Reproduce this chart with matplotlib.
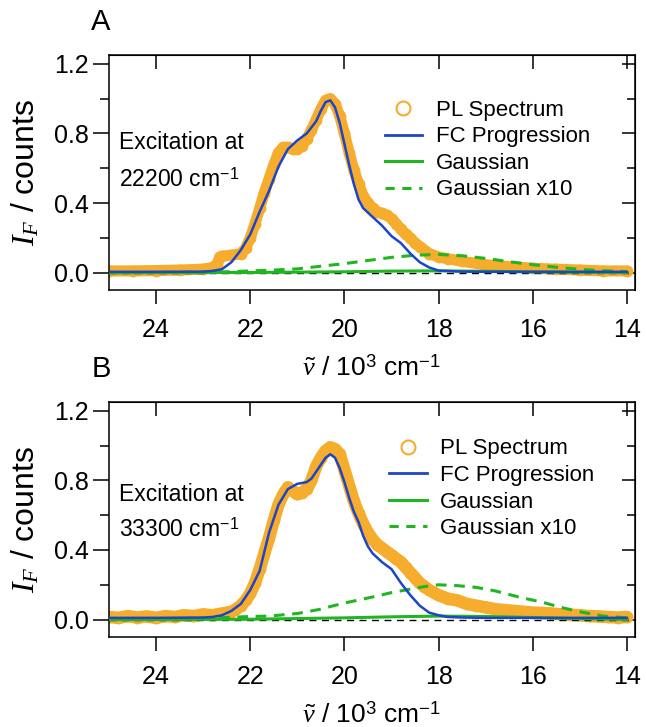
import matplotlib
matplotlib.use("Agg")
import matplotlib.pyplot as plt
from matplotlib.lines import Line2D

plt.rcParams['font.family'] = ['Liberation Sans', 'DejaVu Sans']
plt.rcParams['mathtext.fontset'] = 'custom'
plt.rcParams['mathtext.rm'] = 'Liberation Sans'
plt.rcParams['mathtext.it'] = 'Liberation Serif:italic'
plt.rcParams['mathtext.bf'] = 'Liberation Sans:bold'

orange = '#F6AC2C'
blue = '#1C45C8'
green = '#22B522'

################### Panel A : excitation at 22200 cm-1 ####################
a_pl_x = [25.0, 24.5, 24.0, 23.5, 23.0, 22.8, 22.7, 22.65, 22.6, 22.4, 22.2, 22.1,
          22.0, 21.9, 21.8, 21.7, 21.6, 21.5, 21.4, 21.3, 21.2, 21.1, 21.0, 20.9,
          20.8, 20.7, 20.6, 20.5, 20.4, 20.3, 20.2, 20.1, 20.0, 19.9, 19.8, 19.7,
          19.6, 19.5, 19.4, 19.3, 19.2, 19.1, 19.0, 18.9, 18.8, 18.7, 18.6, 18.5,
          18.4, 18.2, 18.0, 17.8, 17.5, 17.0, 16.5, 16.0, 15.5, 15.0, 14.5, 14.0]
a_pl_y = [0.01, 0.01, 0.012, 0.015, 0.02, 0.03, 0.05, 0.09, 0.095, 0.10, 0.11, 0.14,
          0.20, 0.28, 0.37, 0.46, 0.54, 0.62, 0.69, 0.72, 0.72, 0.71, 0.71, 0.73,
          0.77, 0.82, 0.88, 0.94, 0.99, 1.00, 0.97, 0.90, 0.80, 0.69, 0.59, 0.51,
          0.44, 0.40, 0.37, 0.35, 0.34, 0.33, 0.31, 0.28, 0.25, 0.22, 0.20, 0.17,
          0.15, 0.11, 0.09, 0.08, 0.065, 0.045, 0.035, 0.025, 0.02, 0.015, 0.01, 0.01]

a_fc_x = [25.0, 24.0, 23.0, 22.8, 22.6, 22.4, 22.2, 22.0, 21.8, 21.6, 21.4, 21.2,
          21.0, 20.8, 20.6, 20.5, 20.4, 20.3, 20.2, 20.1, 20.0, 19.9, 19.8, 19.7,
          19.6, 19.4, 19.2, 19.0, 18.8, 18.6, 18.4, 18.2, 18.0, 17.5, 17.0, 16.0,
          15.0, 14.0]
a_fc_y = [0.005, 0.005, 0.006, 0.01, 0.02, 0.06, 0.13, 0.22, 0.35, 0.47, 0.61, 0.71,
          0.76, 0.80, 0.87, 0.93, 0.98, 0.99, 0.95, 0.86, 0.74, 0.62, 0.51, 0.42,
          0.37, 0.32, 0.27, 0.21, 0.17, 0.11, 0.06, 0.03, 0.012, 0.006, 0.005, 0.005,
          0.005, 0.005]

a_g10_x = [25.0, 24.0, 23.0, 22.5, 22.0, 21.5, 21.0, 20.5, 20.0, 19.5, 19.0, 18.5,
           18.0, 17.5, 17.0, 16.5, 16.0, 15.5, 15.0, 14.5, 14.0]
a_g10_y = [0.0, 0.001, 0.003, 0.005, 0.01, 0.015, 0.022, 0.037, 0.052, 0.07, 0.088, 0.10,
           0.105, 0.097, 0.082, 0.063, 0.046, 0.031, 0.019, 0.011, 0.006]

a_g_x = [25.0, 22.0, 20.0, 19.0, 18.0, 17.0, 16.0, 15.0, 14.0]
a_g_y = [0.0, 0.001, 0.005, 0.009, 0.0105, 0.008, 0.0046, 0.002, 0.0006]

################### Panel B : excitation at 33300 cm-1 ####################
b_pl_x = [25.0, 24.8, 24.6, 24.4, 24.2, 24.0, 23.8, 23.6, 23.4, 23.2, 23.0, 22.8,
          22.6, 22.4, 22.3, 22.2, 22.1, 22.0, 21.9, 21.8, 21.7, 21.6, 21.5, 21.4,
          21.3, 21.2, 21.1, 21.0, 20.9, 20.8, 20.7, 20.6, 20.5, 20.4, 20.3, 20.2,
          20.1, 20.0, 19.9, 19.8, 19.7, 19.6, 19.5, 19.4, 19.3, 19.2, 19.1, 19.0,
          18.9, 18.8, 18.7, 18.6, 18.5, 18.4, 18.3, 18.2, 18.0, 17.8, 17.6, 17.4,
          17.2, 17.0, 16.8, 16.6, 16.4, 16.2, 16.0, 15.8, 15.6, 15.4, 15.2, 15.0,
          14.8, 14.6, 14.4, 14.2, 14.0]
b_pl_y = [0.015, 0.01, 0.02, 0.012, 0.018, 0.01, 0.02, 0.015, 0.025, 0.02, 0.03, 0.025,
          0.035, 0.045, 0.06, 0.08, 0.11, 0.15, 0.21, 0.29, 0.38, 0.47, 0.57, 0.66,
          0.72, 0.76, 0.74, 0.72, 0.73, 0.75, 0.80, 0.88, 0.93, 0.97, 0.99, 0.98,
          0.95, 0.86, 0.77, 0.68, 0.61, 0.55, 0.50, 0.46, 0.43, 0.41, 0.39, 0.37,
          0.35, 0.33, 0.30, 0.27, 0.24, 0.21, 0.19, 0.17, 0.14, 0.12, 0.11, 0.09,
          0.08, 0.07, 0.06, 0.055, 0.05, 0.045, 0.04, 0.038, 0.035, 0.03, 0.028, 0.025,
          0.02, 0.018, 0.015, 0.012, 0.015]

b_fc_x = [25.0, 24.0, 23.0, 22.8, 22.6, 22.4, 22.2, 22.0, 21.8, 21.6, 21.4, 21.2,
          21.0, 20.8, 20.7, 20.6, 20.5, 20.4, 20.3, 20.2, 20.1, 20.0, 19.9, 19.8,
          19.7, 19.6, 19.5, 19.4, 19.2, 19.0, 18.8, 18.6, 18.4, 18.2, 18.0, 17.8,
          17.5, 17.0, 16.0, 15.0, 14.0]
b_fc_y = [0.01, 0.01, 0.012, 0.015, 0.025, 0.05, 0.09, 0.17, 0.28, 0.50, 0.66, 0.75,
          0.78, 0.79, 0.81, 0.85, 0.89, 0.93, 0.95, 0.93, 0.87, 0.79, 0.70, 0.62,
          0.56, 0.48, 0.42, 0.38, 0.33, 0.29, 0.21, 0.14, 0.08, 0.04, 0.025, 0.015,
          0.012, 0.01, 0.01, 0.01, 0.01]

b_g10_x = [25.0, 24.0, 23.0, 22.5, 22.0, 21.6, 21.0, 20.5, 20.3, 20.0, 19.4, 19.0,
           18.7, 18.3, 18.0, 17.6, 17.2, 16.8, 16.3, 15.8, 15.4, 15.0, 14.5, 14.0]
b_g10_y = [0.0, 0.003, 0.008, 0.012, 0.018, 0.02, 0.035, 0.06, 0.075, 0.095, 0.13, 0.155,
           0.17, 0.19, 0.20, 0.195, 0.185, 0.165, 0.13, 0.10, 0.07, 0.045, 0.02, 0.01]

b_g_x = [25.0, 22.0, 20.0, 19.0, 18.0, 17.0, 16.0, 15.0, 14.0]
b_g_y = [0.0, 0.002, 0.01, 0.016, 0.02, 0.018, 0.012, 0.005, 0.001]

x_ticks = [24, 22, 20, 18, 16, 14]
y_major = [0.0, 0.4, 0.8, 1.2]
y_minor = [0.2, 0.6, 1.0]
legend_labels = ['PL Spectrum', 'FC Progression', 'Gaussian', 'Gaussian x10']

# letter, data..., excitation, axes bottom, band width, legend anchor, text rows
panels = [
    ('A', a_pl_x, a_pl_y, a_fc_x, a_fc_y, a_g_x, a_g_y, a_g10_x, a_g10_y, '22200',
     0.601, 8, (0.524, 0.81), (0.626, 0.468)),
    ('B', b_pl_x, b_pl_y, b_fc_x, b_fc_y, b_g_x, b_g_y, b_g10_x, b_g10_y, '33300',
     0.1238, 9, (0.532, 0.845), (0.607, 0.457)),
]

fig = plt.figure(figsize=(6.46, 7.27), dpi=100)

for (letter, pl_x, pl_y, fc_x, fc_y, g_x, g_y, g10_x, g10_y, exc, bottom, band,
     leg_anchor, text_rows) in panels:
    ax = fig.add_axes([0.1687, bottom, 0.8142, 0.3232])

    ax.plot(pl_x, pl_y, '-o', color=orange, lw=band, ms=7, mfc='none', mec=orange,
            mew=1.5, solid_capstyle='round', zorder=1)
    ax.axhline(0, color='k', ls=(0, (5, 4)), lw=1.0, zorder=2)
    ax.plot(g_x, g_y, color=green, lw=2.2, zorder=3)
    ax.plot(g10_x, g10_y, color=green, lw=2.2, ls=(0, (3.5, 2.5)), zorder=3)
    ax.plot(fc_x, fc_y, color=blue, lw=1.8, zorder=4)

    ax.set_xlim(25, 13.83)
    ax.set_ylim(-0.1, 1.25)
    ax.set_xticks(x_ticks)
    ax.set_xticklabels([str(t) for t in x_ticks])
    ax.set_yticks(y_major)
    ax.set_yticks(y_minor, minor=True)
    ax.set_yticklabels(['%.1f' % v for v in y_major])
    ax.tick_params(axis='x', direction='out', length=10, width=1.1, labelsize=18, pad=10)
    ax.tick_params(axis='y', which='major', direction='out', length=11.5, width=1.1,
                   labelsize=18, pad=3)
    ax.tick_params(axis='y', which='minor', direction='out', length=6.5, width=1.1)
    for s in ax.spines.values():
        s.set_linewidth(1.1)

    top = ax.secondary_xaxis('top')
    top.set_xticks(x_ticks)
    top.tick_params(direction='in', length=10, width=1.1, labeltop=False)
    right = ax.secondary_yaxis('right')
    right.set_yticks(y_major)
    right.set_yticks(y_minor, minor=True)
    right.tick_params(which='major', direction='in', length=9.5, width=1.1, labelright=False)
    right.tick_params(which='minor', direction='in', length=6, width=1.1)

    ax.set_ylabel(r'$I_F$ / counts', fontsize=23)
    ax.yaxis.set_label_coords(-0.128, 0.5)
    ax.set_xlabel(r'$\tilde{\nu}$ / 10$^3$ cm$^{-1}$', fontsize=19)
    ax.xaxis.set_label_coords(0.5, -0.275)

    ax.text(0.02, text_rows[0], 'Excitation at', fontsize=16.5, va='center',
            transform=ax.transAxes)
    ax.text(0.02, text_rows[1], exc + r' cm$^{-1}$', fontsize=16.5, va='center',
            transform=ax.transAxes)

    handles = [
        Line2D([], [], ls='none', marker='o', ms=10, mfc='none', mec=orange, mew=1.5),
        Line2D([], [], color=blue, lw=2),
        Line2D([], [], color=green, lw=2.2),
        Line2D([], [], color=green, lw=2.2, ls=(0, (3, 2.5))),
    ]
    ax.legend(handles, legend_labels, loc='upper left', bbox_to_anchor=leg_anchor,
              frameon=False, fontsize=16, handlelength=1.7, handletextpad=0.6,
              labelspacing=0.25, borderaxespad=0, borderpad=0)

    fig.text(101 / 646, bottom + 0.3232 + 0.045, letter, fontsize=21,
             ha='center', va='center')

fig.savefig('out.png', dpi=100)
